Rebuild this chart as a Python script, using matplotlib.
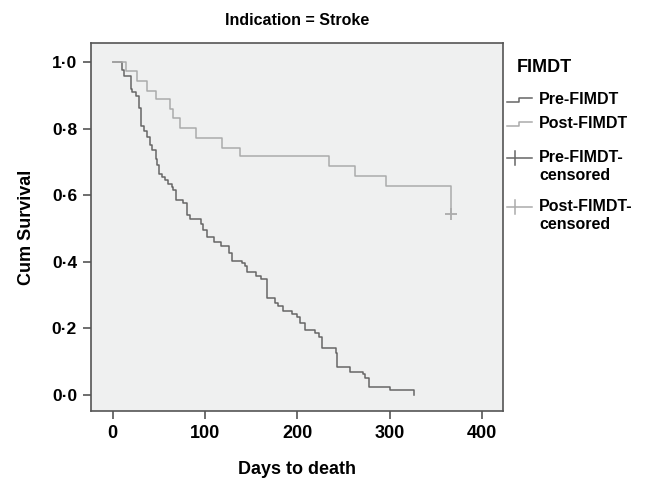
import matplotlib
matplotlib.use("Agg")
import matplotlib.pyplot as plt
from matplotlib.lines import Line2D

plt.rcParams["font.family"] = ["Liberation Sans", "DejaVu Sans"]
plt.rcParams["font.weight"] = "bold"

# Kaplan-Meier steps (days, cumulative survival after each drop)
pre_days = [0, 10, 12, 19.5, 21, 25, 28.5, 30.7, 34, 37, 40.4, 42.3, 46.6, 47.7, 50.5, 53,
            56.7, 60.2, 64, 65.7, 68.3, 75.8, 80.2, 83.7, 95.3, 98.2, 101.8, 110, 117,
            125.7, 129, 140.4, 143.3, 145.2, 155.3, 160.7, 166.8, 175.8, 179.4, 184.2,
            194.6, 199.3, 203, 208.3, 219.2, 223.8, 227.1, 242, 243.3, 257, 271, 273.3,
            277.7, 300.4, 325.7]
pre_surv = [1.0, 0.975, 0.958, 0.92, 0.91, 0.898, 0.863, 0.808, 0.793, 0.775, 0.75, 0.735,
            0.71, 0.69, 0.665, 0.655, 0.645, 0.633, 0.625, 0.615, 0.587, 0.578, 0.54, 0.528,
            0.515, 0.495, 0.473, 0.46, 0.448, 0.425, 0.402, 0.395, 0.387, 0.37, 0.357,
            0.347, 0.29, 0.277, 0.267, 0.253, 0.243, 0.233, 0.217, 0.195, 0.185, 0.173,
            0.14, 0.125, 0.083, 0.07, 0.062, 0.05, 0.025, 0.015, 0.0]

post_days = [0, 14, 26.7, 36.8, 47, 62, 65.7, 73.2, 90, 118.7, 138, 233.6, 262.8, 295.8, 366]
post_surv = [1.0, 0.973, 0.943, 0.914, 0.889, 0.86, 0.831, 0.801, 0.772, 0.743, 0.717,
             0.688, 0.658, 0.629, 0.543]

post_cens_days = [366]
post_cens_surv = [0.543]

x_ticks = [0, 100, 200, 300, 400]
y_ticks = [0.0, 0.2, 0.4, 0.6, 0.8, 1.0]
y_tick_labels = ["0\u00b70", "0\u00b72", "0\u00b74", "0\u00b76", "0\u00b78", "1\u00b70"]

legend_labels = ["Pre-FIMDT", "Post-FIMDT", "Pre-FIMDT-\ncensored", "Post-FIMDT-\ncensored"]

PRE_C = "#666666"
POST_C = "#ababab"
SPINE_C = "#555555"

W, H = 646, 479
fig = plt.figure(figsize=(W / 100, H / 100), dpi=100)
ax = fig.add_axes([91 / W, 1 - 411 / H, 412 / W, 368 / H])
ax.set_facecolor("#eff0f0")

ax.step(pre_days, pre_surv, where="post", color=PRE_C, lw=1.1)
ax.step(post_days, post_surv, where="post", color=POST_C, lw=1.1)
ax.plot(post_cens_days, post_cens_surv, ls="none", marker="+", ms=9, mew=1.3, color=POST_C)

ax.set_xlim(-23.5, 422.5)
ax.set_ylim(-0.048, 1.057)
ax.set_xticks(x_ticks)
ax.set_xticklabels([str(t) for t in x_ticks], fontsize=13, fontweight="bold")
ax.set_yticks(y_ticks)
ax.set_yticklabels(y_tick_labels, fontsize=12.5, fontweight="bold")
ax.tick_params(length=6, width=1.2, color=SPINE_C, pad=4)
for sp in ax.spines.values():
    sp.set_color(SPINE_C)
    sp.set_linewidth(1.2)

ax.set_title("Indication = Stroke", fontsize=11.5, fontweight="bold", pad=13)
ax.set_xlabel("Days to death", fontsize=13, fontweight="bold", labelpad=14)
ax.set_ylabel("Cum Survival", fontsize=13, fontweight="bold", labelpad=12)

# legend drawn beside the plot, SPSS style
def px(x, y):
    return x / W, 1 - y / H

fig.text(*px(517, 68), "FIMDT", fontsize=13, fontweight="bold", va="center", ha="left")
entry_y = [100, 124, 158, 207]
colors = [PRE_C, POST_C, PRE_C, POST_C]
for i, (lab, y, c) in enumerate(zip(legend_labels, entry_y, colors)):
    if i < 2:
        xs = [507, 519, 519, 532]
        ys = [y + 1.5, y + 1.5, y - 2.5, y - 2.5]
        fig.text(*px(539, y), lab, fontsize=11.5, fontweight="bold", va="center", ha="left")
    else:
        xs = [507, 532]
        ys = [y, y]
        fig.add_artist(Line2D([515 / W, 515 / W], [1 - (y - 7) / H, 1 - (y + 7) / H],
                              color=c, lw=1.1))
        fig.text(*px(539, y - 8), lab, fontsize=11.5, fontweight="bold", va="top",
                 ha="left", linespacing=1.25)
    fig.add_artist(Line2D([x / W for x in xs], [1 - v / H for v in ys], color=c, lw=1.1))

fig.savefig("out.png", dpi=100)
